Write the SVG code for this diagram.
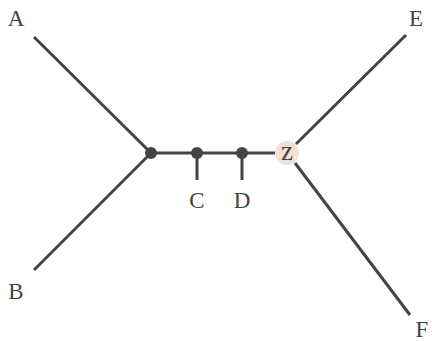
<svg xmlns="http://www.w3.org/2000/svg" width="432" height="342" viewBox="0 0 432 342">
<style>
.e{stroke:#444;stroke-width:3;fill:none}
.n{fill:#444}
.t{font-family:"Liberation Serif","DejaVu Serif",serif;font-size:23px;fill:#444;text-anchor:middle}
</style>
<rect width="432" height="342" fill="#fff"/>
<g id="connectors">
<line class="e" x1="34" y1="37" x2="151" y2="153"/>
<line class="e" x1="34" y1="270" x2="151" y2="153"/>
<line class="e" x1="151" y1="153" x2="275" y2="153"/>
<line class="e" x1="197" y1="153" x2="197" y2="180"/>
<line class="e" x1="242" y1="153" x2="242" y2="180"/>
<line class="e" x1="296" y1="144" x2="406" y2="35"/>
<line class="e" x1="295" y1="163" x2="410" y2="315"/>
</g>
<g id="A"><text class="t" x="16" y="26">A</text></g>
<g id="B"><text class="t" x="16" y="299">B</text></g>
<g id="E"><text class="t" x="416" y="26">E</text></g>
<g id="F"><text class="t" x="422" y="337">F</text></g>
<g id="n1"><circle class="n" cx="151" cy="153" r="6"/></g>
<g id="C"><circle class="n" cx="197" cy="153" r="6"/><text class="t" x="197" y="208">C</text></g>
<g id="D"><circle class="n" cx="242" cy="153" r="6"/><text class="t" x="242" y="208">D</text></g>
<g id="z"><circle cx="287" cy="153" r="12" fill="#f2e1d4"/><text class="t" x="287" y="160" style="font-size:27px">z</text></g>
</svg>
